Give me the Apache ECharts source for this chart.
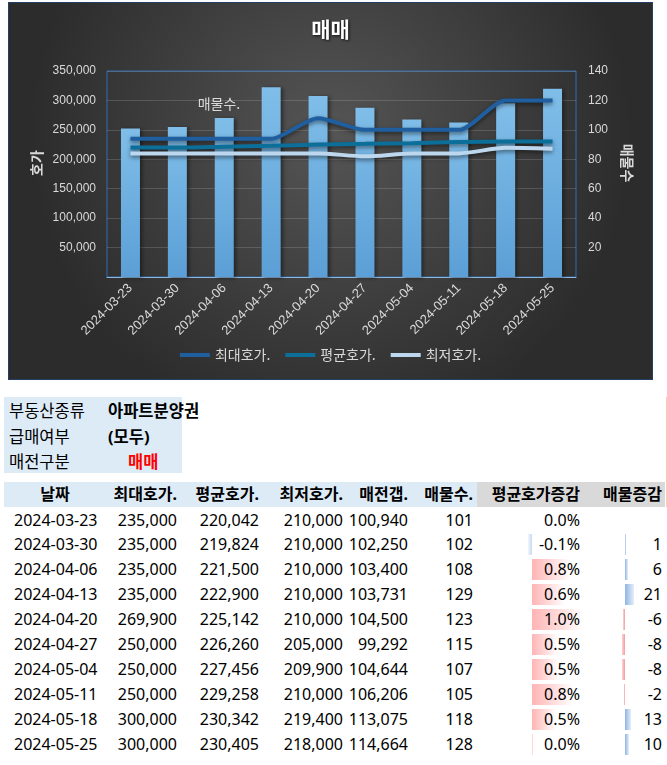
<!DOCTYPE html>
<html>
<head>
<meta charset="utf-8">
<script src="https://cdn.jsdelivr.net/npm/echarts@6/dist/echarts.min.js"></script>
<style>
  html, body { margin: 0; padding: 0; background: #fff; }
  body { width: 667px; height: 765px; position: relative; overflow: hidden;
         font-family: "Noto Sans", "Noto Sans CJK KR", sans-serif; font-size: 16px; color: #000; }
  #chart { position: absolute; left: 8px; top: 2px; width: 645px; height: 378px;
           border: 1px solid #243f66; box-sizing: border-box; }
  .abs { position: absolute; white-space: nowrap; }
  .b { font-weight: bold; }
</style>
</head>
<body>
<div id="chart"></div>
<div id="table"></div>
<script>
// ---- data ----
const dates = ['2024-03-23','2024-03-30','2024-04-06','2024-04-13','2024-04-20','2024-04-27','2024-05-04','2024-05-11','2024-05-18','2024-05-25'];
const maxPrice = [235000,235000,235000,235000,269900,250000,250000,250000,300000,300000];
const avgPrice = [220042,219824,221500,222900,225142,226260,227456,229258,230342,230405];
const minPrice = [210000,210000,210000,210000,210000,205000,209900,210000,219400,218000];
const saleGap = [100940,102250,103400,103731,104500,99292,104644,106206,113075,114664];
const listings = [101,102,108,129,123,115,107,105,118,128];
const avgChangePct = [0.0,-0.08,0.77,0.64,1.0,0.5,0.53,0.8,0.47,0.02];
const listingChange = [null,1,6,21,-6,-8,-8,-2,13,10];
const seriesNames = ['최대호가.','평균호가.','최저호가.'];
const barName = '매물수.';
const headers = ['날짜','최대호가.','평균호가.','최저호가.','매전갭.','매물수.','평균호가증감','매물증감'];
const infoLabels = ['부동산종류','급매여부','매전구분'];
const infoValues = ['아파트분양권','(모두)','매매'];

// ---- chart ----
const chart = echarts.init(document.getElementById('chart'), null, {renderer: 'canvas'});
const fmt = v => v === 0 ? '' : v.toLocaleString('en-US');
const lblColor = '#d9d9d9';
chart.setOption({
  animation: false,
  backgroundColor: {type: 'radial', x: 0.5, y: 0.35, r: 0.8,
    colorStops: [{offset: 0, color: '#555555'}, {offset: 1, color: '#2c2c2c'}]},
  title: {text: '매매', left: 'center', top: 16, padding: 0,
    textStyle: {color: '#ffffff', fontSize: 21, fontWeight: 'bold', fontFamily: 'Noto Sans CJK KR',
      textShadowColor: 'rgba(0,0,0,0.8)', textShadowBlur: 3, textShadowOffsetX: 1, textShadowOffsetY: 1}},
  grid: {left: 98, top: 68, width: 469, height: 206, show: true, borderColor: '#2f6db0', borderWidth: 1,
    backgroundColor: 'transparent'},
  legend: {data: seriesNames, left: 'center', top: 345, padding: 0, itemGap: 15, itemWidth: 30, itemHeight: 4,
    icon: 'rect', textStyle: {color: lblColor, fontSize: 14, fontFamily: 'Noto Sans CJK KR'}},
  xAxis: {type: 'category', data: dates,
    axisLine: {lineStyle: {color: '#8fb8e0', width: 1}}, axisTick: {show: false},
    axisLabel: {rotate: 45, color: lblColor, fontSize: 13, margin: 9, fontFamily: 'Liberation Sans'}},
  yAxis: [
    {type: 'value', min: 0, max: 350000, interval: 50000,
      axisLine: {show: false}, axisTick: {show: false},
      axisLabel: {formatter: fmt, color: lblColor, fontSize: 12, margin: 11, fontFamily: 'Liberation Sans'},
      splitLine: {lineStyle: {color: 'rgba(255,255,255,0.15)', width: 1}}},
    {type: 'value', min: 0, max: 140, interval: 20, position: 'right',
      axisLine: {show: false}, axisTick: {show: false},
      axisLabel: {formatter: fmt, color: lblColor, fontSize: 12, margin: 12, fontFamily: 'Liberation Sans'},
      splitLine: {show: false}}
  ],
  graphic: [
    {type: 'text', x: 28, y: 160, rotation: Math.PI / 2,
      style: {text: '호가', fill: lblColor, fontSize: 14, fontWeight: 'bold', fontFamily: 'Noto Sans CJK KR', align: 'center', verticalAlign: 'middle'}},
    {type: 'text', x: 618, y: 160, rotation: -Math.PI / 2,
      style: {text: '매물수', fill: lblColor, fontSize: 14, fontWeight: 'bold', fontFamily: 'Noto Sans CJK KR', align: 'center', verticalAlign: 'middle'}},
    {type: 'text', x: 210, y: 101,
      style: {text: barName, fill: lblColor, fontSize: 14, fontFamily: 'Noto Sans CJK KR', align: 'center', verticalAlign: 'middle'}}
  ],
  series: [
    {name: barName, type: 'bar', yAxisIndex: 1, data: listings, barWidth: 19,
      itemStyle: {color: {type: 'linear', x: 0, y: 0, x2: 0, y2: 1,
        colorStops: [{offset: 0, color: '#80bee9'}, {offset: 1, color: '#5b9fd6'}]},
        shadowColor: 'rgba(0,0,0,0.45)', shadowBlur: 4, shadowOffsetX: 2, shadowOffsetY: 1}},
    {name: seriesNames[0], type: 'line', data: maxPrice, smooth: 0.25, symbol: 'none', z: 5,
      itemStyle: {color: '#1f5fa0'},
      lineStyle: {color: '#1f5fa0', width: 4, shadowColor: 'rgba(0,0,0,0.5)', shadowBlur: 4, shadowOffsetY: 2}},
    {name: seriesNames[1], type: 'line', data: avgPrice, smooth: 0.25, symbol: 'none', z: 5,
      itemStyle: {color: '#0b6f99'},
      lineStyle: {color: '#0b6f99', width: 4, shadowColor: 'rgba(0,0,0,0.5)', shadowBlur: 4, shadowOffsetY: 2}},
    {name: seriesNames[2], type: 'line', data: minPrice, smooth: 0.25, symbol: 'none', z: 5,
      itemStyle: {color: '#bdd7ee'},
      lineStyle: {color: '#bdd7ee', width: 4, shadowColor: 'rgba(0,0,0,0.5)', shadowBlur: 4, shadowOffsetY: 2}}
  ]
});

// ---- table ----
const T = document.getElementById('table');
function el(css, text, cls) {
  const d = document.createElement('div');
  d.className = 'abs' + (cls ? ' ' + cls : '');
  d.style.cssText = css;
  if (text !== undefined) d.textContent = text;
  T.appendChild(d);
  return d;
}
// info box
el('left:4px;top:397px;width:178px;height:76px;background:#ddebf7;');
el('left:666px;top:397px;width:1px;height:110px;background:#f8cbad;');
const infoY = [411, 436.5, 461.5];
infoLabels.forEach((t, i) => {
  el(`left:9px;top:${infoY[i] - 12}px;height:24px;line-height:24px;font-size:16.5px;`, t);
  if (i < 2) el(`left:108px;top:${infoY[i] - 12}px;height:24px;line-height:24px;font-size:16.5px;`, infoValues[i], 'b');
  else el(`left:128px;top:${infoY[i] - 12}px;height:24px;line-height:24px;color:#ff0000;font-size:16.5px;`, infoValues[i], 'b');
});
// header
el('left:4px;top:482px;width:473px;height:25px;background:#ddebf7;');
el('left:477px;top:482px;width:188px;height:25px;background:#d9d9d9;');
const colRight = [null, 177, 259, 343, 408, 473, 580, 662];
headers.forEach((h, i) => {
  if (i === 0) el('left:25px;width:60px;text-align:center;top:482px;height:25px;line-height:25px;', h, 'b');
  else el(`right:${667 - colRight[i]}px;top:482px;height:25px;line-height:25px;text-align:right;`, h, 'b');
});
// rows
const rowH = 24.9, row0 = 520;
const n = (v) => v.toLocaleString('en-US');
const pctZero = 532, pctScale = 51;
const chgZero = 625.3, chgScale = 0.41;
dates.forEach((d, r) => {
  const c = row0 + r * rowH;
  const top = c - rowH / 2;
  const p = avgChangePct[r];
  if (p > 0) {
    el(`left:${pctZero}px;top:${c - 10.5}px;width:${p * pctScale}px;height:21px;background:linear-gradient(to right,#ffb4b4,#ffffff);`);
  } else if (p < 0) {
    const w = -p * pctScale;
    el(`left:${pctZero - w}px;top:${c - 10.5}px;width:${w}px;height:21px;background:linear-gradient(to left,#c6daf0,#f3f7fc);`);
  }
  const q = listingChange[r];
  if (q !== null && q > 0) {
    el(`left:${chgZero}px;top:${c - 10.5}px;width:${q * chgScale}px;height:21px;background:linear-gradient(to right,#8fb4e3,#e6eff9);`);
  } else if (q !== null && q < 0) {
    const w = -q * chgScale;
    el(`left:${chgZero - w}px;top:${c - 10.5}px;width:${w}px;height:21px;background:linear-gradient(to left,#f59a9a,#fbd6d6);`);
  }
  const cells = [d, n(maxPrice[r]), n(avgPrice[r]), n(minPrice[r]), n(saleGap[r]), String(listings[r]),
    p.toFixed(1) + '%', q === null ? '' : String(q)];
  cells.forEach((t, i) => {
    if (i === 0) el(`left:14px;top:${top}px;height:${rowH}px;line-height:${rowH}px;`, t);
    else el(`right:${667 - colRight[i]}px;top:${top}px;height:${rowH}px;line-height:${rowH}px;text-align:right;`, t);
  });
});
</script>
</body>
</html>
